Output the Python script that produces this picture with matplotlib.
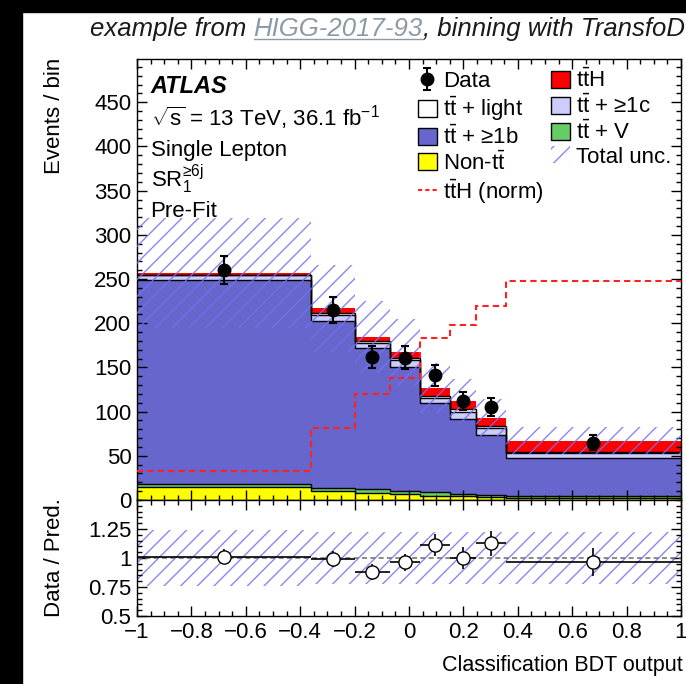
import numpy as np
import matplotlib
matplotlib.use("Agg")
import matplotlib.pyplot as plt
from matplotlib.lines import Line2D
from matplotlib.patches import Patch, Rectangle
from matplotlib.ticker import MultipleLocator, FixedLocator, FixedFormatter

# ---------------- data ----------------
edges = np.array([-1.0, -0.36, -0.2, -0.07, 0.04, 0.15, 0.245, 0.355, 1.0])
non_tt = np.array([15.0, 10.6, 8.3, 6.4, 5.0, 4.2, 3.5, 2.5])
tt_v = np.array([2.8, 3.4, 3.8, 3.8, 3.5, 3.0, 2.6, 1.5])
tt_b = np.array([231.2, 188.0, 159.9, 140.8, 101.0, 84.2, 67.5, 43.2])
tt_c = np.array([5.5, 7.5, 5.5, 7.0, 6.0, 8.3, 7.5, 5.7])
tt_light = np.array([0.5, 2.6, 2.0, 2.5, 2.3, 3.0, 2.7, 1.1])
tth = np.array([1.8, 4.9, 5.0, 6.8, 8.7, 9.4, 9.5, 13.2])
tth_norm = np.array([33, 82, 120, 138, 183, 198, 220, 248])
total_unc = np.array([62, 49, 41, 38, 28, 25, 21, 15])
data = np.array([260, 215, 162, 161, 141, 112, 105, 65])

main_yticks = [0, 50, 100, 150, 200, 250, 300, 350, 400, 450]
ratio_yticks = [0.5, 0.75, 1.0, 1.25]
ratio_ylabels = ["0.5", "0.75", "1", "1.25"]
x_ticks = [-1, -0.8, -0.6, -0.4, -0.2, 0, 0.2, 0.4, 0.6, 0.8, 1]
x_labels = ["\u22121", "\u22120.8", "\u22120.6", "\u22120.4", "\u22120.2", "0",
            "0.2", "0.4", "0.6", "0.8", "1"]

# ---------------- style ----------------
plt.rcParams["font.family"] = ["Liberation Sans", "DejaVu Sans"]
plt.rcParams["mathtext.fontset"] = "custom"
plt.rcParams["mathtext.rm"] = "Liberation Sans"
plt.rcParams["mathtext.it"] = "Liberation Sans:italic"
plt.rcParams["mathtext.bf"] = "Liberation Sans:bold"
plt.rcParams["hatch.linewidth"] = 1.0

FS = 16
c_b = "#6666cc"
c_c = "#ccccff"
c_v = "#66cc66"
c_non = "#ffff00"
c_tth = "#ff0000"
c_hatch = (0.45, 0.45, 0.95, 0.85)

W, H = 686, 684
fig = plt.figure(figsize=(W / 100, H / 100), dpi=100)

# black frame strips
fig.add_artist(Rectangle((0, 0), 22 / W, 1, transform=fig.transFigure,
                         color="black", zorder=-10))
fig.add_artist(Rectangle((0, 1 - 12 / H), 1, 12 / H, transform=fig.transFigure,
                         color="black", zorder=-10))

x0, x1 = 137, 681
ax = fig.add_axes([x0 / W, 1 - 500 / H, (x1 - x0) / W, (500 - 59) / H])
rx = fig.add_axes([x0 / W, 1 - 616 / H, (x1 - x0) / W, (616 - 500) / H], sharex=ax)

centers = 0.5 * (edges[:-1] + edges[1:])
halfw = 0.5 * np.diff(edges)

# ---------------- stacked prediction ----------------
components = [
    (non_tt, c_non, "Non-t$\\bar{\\mathrm{t}}$"),
    (tt_v, c_v, "t$\\bar{\\mathrm{t}}$ + V"),
    (tt_b, c_b, "t$\\bar{\\mathrm{t}}$ + \u22651b"),
    (tt_c, c_c, "t$\\bar{\\mathrm{t}}$ + \u22651c"),
    (tt_light, "white", "t$\\bar{\\mathrm{t}}$ + light"),
    (tth, c_tth, "t$\\bar{\\mathrm{t}}$H"),
]
bottom = np.zeros(len(data))
handles = {}
for vals, col, lab in components:
    top = bottom + vals
    ax.stairs(top, edges, baseline=bottom, fill=True, color=col, lw=0, zorder=1)
    if col != c_tth:
        ax.stairs(top, edges, baseline=None, color="black", lw=1.0, zorder=2)
    handles[lab] = Patch(facecolor=col, edgecolor="black", lw=1.0, label=lab)
    bottom = top
total = bottom

# total uncertainty band
ax.bar(edges[:-1], 2 * total_unc, bottom=total - total_unc, width=np.diff(edges),
       align="edge", fill=False, hatch="//", edgecolor=c_hatch, lw=0, zorder=3)

# normalised signal shape
ax.stairs(tth_norm, edges, baseline=None, color="#ff2020", lw=1.5,
          linestyle=(0, (3, 2)), zorder=4)

# data
dat = ax.errorbar(centers, data, yerr=np.sqrt(data), fmt="o", color="black",
                  ms=9, elinewidth=1.5, capsize=3, capthick=1.5, zorder=5)

ax.set_xlim(-1, 1)
ax.set_ylim(0, 499)
ax.yaxis.set_major_locator(FixedLocator(main_yticks))
ax.yaxis.set_minor_locator(MultipleLocator(10))
ax.xaxis.set_major_locator(FixedLocator(x_ticks))
ax.xaxis.set_minor_locator(MultipleLocator(0.05))
ax.tick_params(axis="both", which="both", direction="in", top=True, right=True,
               labelsize=FS, width=1.0)
ax.tick_params(which="major", length=7, pad=4)
ax.tick_params(which="minor", length=3.5)
ax.tick_params(axis="x", labelbottom=False)

# ---------------- labels in the main panel ----------------
tx = 0.025
ax.text(tx, 0.922, "ATLAS", transform=ax.transAxes, fontsize=FS + 1,
        fontweight="bold", style="italic", va="baseline")
ax.text(tx, 0.848, "$\\sqrt{\\mathrm{s}}$ = 13 TeV, 36.1 fb$^{-1}$",
        transform=ax.transAxes, fontsize=FS, va="baseline")
ax.text(tx, 0.780, "Single Lepton", transform=ax.transAxes, fontsize=FS,
        va="baseline")
ax.text(tx, 0.710, "SR$_{1}^{\\mathrm{\u22656j}}$", transform=ax.transAxes,
        fontsize=FS, va="baseline")
ax.text(tx, 0.641, "Pre-Fit", transform=ax.transAxes, fontsize=FS,
        va="baseline")

unc_handle = Patch(facecolor="none", edgecolor=c_hatch, hatch="//", lw=0,
                   label="Total unc.")
norm_handle = Line2D([], [], color="#ff2020", lw=1.5, linestyle=(0, (2, 1.5)),
                     label="t$\\bar{\\mathrm{t}}$H (norm)")
legend_handles = [
    dat,
    handles["t$\\bar{\\mathrm{t}}$ + light"],
    handles["t$\\bar{\\mathrm{t}}$ + \u22651b"],
    handles["Non-t$\\bar{\\mathrm{t}}$"],
    norm_handle,
    handles["t$\\bar{\\mathrm{t}}$H"],
    handles["t$\\bar{\\mathrm{t}}$ + \u22651c"],
    handles["t$\\bar{\\mathrm{t}}$ + V"],
    unc_handle,
]
legend_labels = ["Data", "t$\\bar{\\mathrm{t}}$ + light",
                 "t$\\bar{\\mathrm{t}}$ + \u22651b", "Non-t$\\bar{\\mathrm{t}}$",
                 "t$\\bar{\\mathrm{t}}$H (norm)", "t$\\bar{\\mathrm{t}}$H",
                 "t$\\bar{\\mathrm{t}}$ + \u22651c", "t$\\bar{\\mathrm{t}}$ + V",
                 "Total unc."]
ax.legend(legend_handles, legend_labels, ncol=2, loc="upper left",
          bbox_to_anchor=(0.516, 0.978), frameon=False, fontsize=FS,
          handlelength=0.85, handleheight=0.8, handletextpad=0.3,
          labelspacing=0.12, columnspacing=0.3, borderpad=0, borderaxespad=0)

# ---------------- ratio panel ----------------
rel_unc = total_unc / total
rx.bar(edges[:-1], 2 * rel_unc, bottom=1 - rel_unc, width=np.diff(edges),
       align="edge", fill=False, hatch="//", edgecolor=c_hatch, lw=0, zorder=1)
rx.axhline(1.0, color="#777777", lw=1.2, linestyle=(0, (3, 2)), zorder=2)
ratio = data / total
ratio_err = np.sqrt(data) / total
rx.errorbar(centers, ratio, xerr=halfw, yerr=ratio_err, fmt="o", color="black",
            mfc="white", mec="black", ms=9.5, elinewidth=1.2, capsize=0,
            zorder=3)
rx.set_ylim(0.5, 1.5)
rx.yaxis.set_major_locator(FixedLocator(ratio_yticks))
rx.yaxis.set_major_formatter(FixedFormatter(ratio_ylabels))
rx.yaxis.set_minor_locator(MultipleLocator(0.05))
rx.xaxis.set_major_formatter(FixedFormatter(x_labels))
rx.tick_params(axis="both", which="both", direction="in", top=True, right=True,
               labelsize=FS, width=1.0)
rx.tick_params(which="major", length=7, pad=4)
rx.tick_params(which="minor", length=3.5)

for a in (ax, rx):
    for s in a.spines.values():
        s.set_linewidth(1.0)

fig.text(683 / W, 1 - 666 / H, "Classification BDT output", ha="right",
         va="center", fontsize=FS - 0.5)
fig.text(55 / W, 1 - 58 / H, "Events / bin", rotation=90, ha="center",
         va="top", fontsize=FS)
fig.text(55 / W, 1 - 558 / H, "Data / Pred.", rotation=90, ha="center",
         va="center", fontsize=FS)

# ---------------- header line ----------------
fig.canvas.draw()
rend = fig.canvas.get_renderer()
TFS = 18.5
ty = 1 - 36 / H


def _width(s):
    t = fig.text(0, 0, s, fontsize=TFS, style="italic")
    w = t.get_window_extent(rend).width
    t.remove()
    return w


space_w = _width("x x") - _width("xx")
xpos = 90.0
pieces = [("example from", "#1a1a1a", False, True),
          ("HIGG-2017-93", "#8c9aa8", True, False),
          (", binning with TransfoD", "#1a1a1a", False, False)]
for txt, col, underline, add_space in pieces:
    t = fig.text(xpos / W, ty, txt, fontsize=TFS, style="italic", color=col,
                 va="baseline")
    bb = t.get_window_extent(rend)
    if underline:
        fig.add_artist(Line2D([bb.x0 / W, bb.x1 / W],
                              [ty - 3 / H, ty - 3 / H],
                              transform=fig.transFigure, color=col, lw=1.0))
    xpos = bb.x1 + (space_w if add_space else 0)

fig.savefig("out.png", dpi=100)
